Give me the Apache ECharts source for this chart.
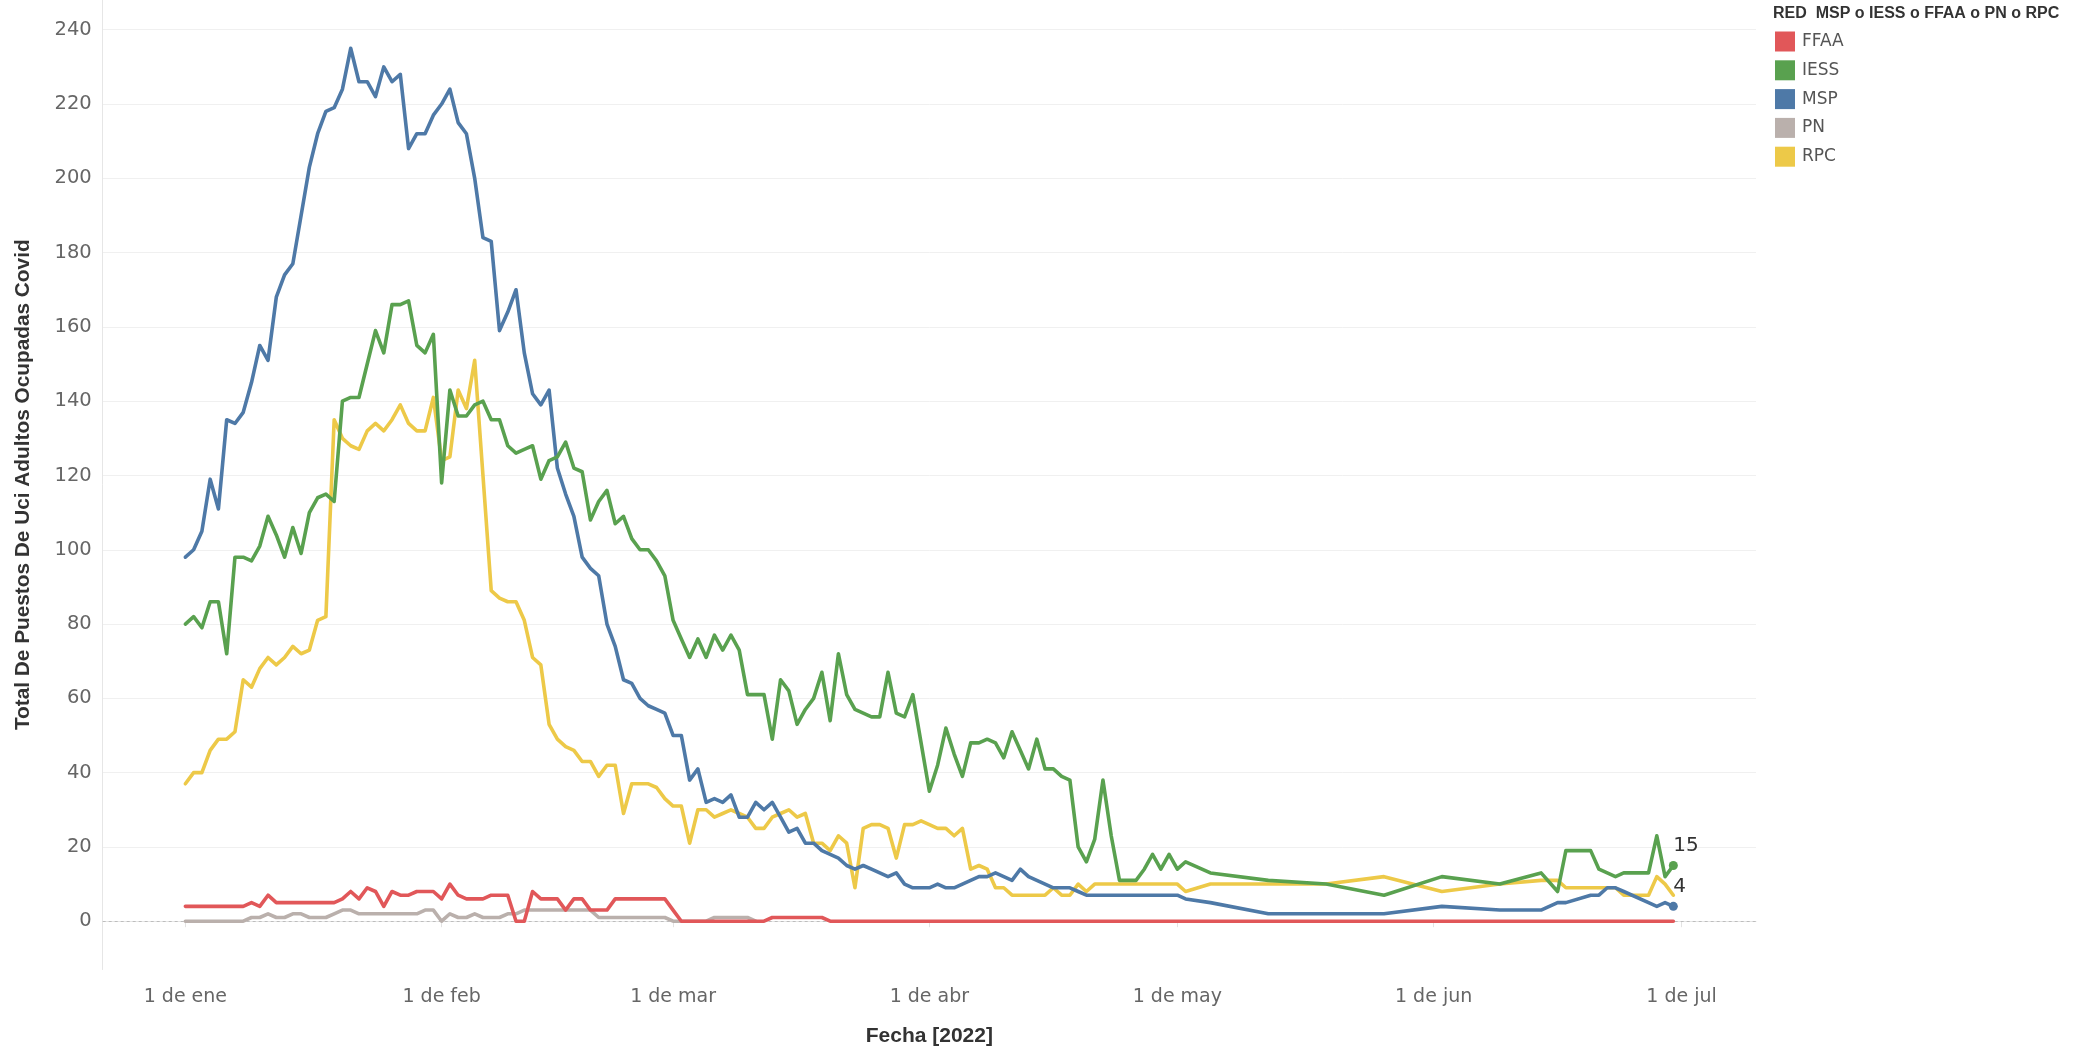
<!DOCTYPE html>
<html><head><meta charset="utf-8">
<script src="https://cdn.jsdelivr.net/npm/echarts@6/dist/echarts.min.js"></script>
<style>html,body{margin:0;padding:0;background:#fff}#c{width:2081px;height:1053px}</style>
</head><body><div id="c"></div><script>
// Dates (2022): daily Jan 1 - May 1, then the sparse reporting dates of May-June
const dates = [
'01-01','01-02','01-03','01-04','01-05','01-06','01-07','01-08','01-09','01-10',
'01-11','01-12','01-13','01-14','01-15','01-16','01-17','01-18','01-19','01-20',
'01-21','01-22','01-23','01-24','01-25','01-26','01-27','01-28','01-29','01-30','01-31',
'02-01','02-02','02-03','02-04','02-05','02-06','02-07','02-08','02-09','02-10',
'02-11','02-12','02-13','02-14','02-15','02-16','02-17','02-18','02-19','02-20',
'02-21','02-22','02-23','02-24','02-25','02-26','02-27','02-28',
'03-01','03-02','03-03','03-04','03-05','03-06','03-07','03-08','03-09','03-10',
'03-11','03-12','03-13','03-14','03-15','03-16','03-17','03-18','03-19','03-20',
'03-21','03-22','03-23','03-24','03-25','03-26','03-27','03-28','03-29','03-30','03-31',
'04-01','04-02','04-03','04-04','04-05','04-06','04-07','04-08','04-09','04-10',
'04-11','04-12','04-13','04-14','04-15','04-16','04-17','04-18','04-19','04-20',
'04-21','04-22','04-23','04-24','04-25','04-26','04-27','04-28','04-29','04-30',
'05-01',
'05-02','05-05','05-12','05-19','05-26','06-02','06-09','06-14','06-16','06-17',
'06-20','06-21','06-22','06-23','06-24','06-27','06-28','06-29','06-30'
];

const msp = [98,100,105,119,111,135,134,137,145,155,
151,168,174,177,190,203,212,218,219,224,
235,226,226,222,230,226,228,208,212,212,
217,220,224,215,212,200,184,183,159,164,
170,153,142,139,143,122,115,109,98,95,
93,80,74,65,64,60,58,57,56,50,
50,38,41,32,33,32,34,28,28,32,
30,32,28,24,25,21,21,19,18,17,
15,14,15,14,13,12,13,10,9,9,
9,10,9,9,10,11,12,12,13,12,
11,14,12,11,10,9,9,9,8,7,
7,7,7,7,7,7,7,7,7,7,7,
6,5,2,2,2,4,3,3,5,5,7,7,9,9,8,5,4,5,4];

const iess = [80,82,79,86,86,72,98,98,97,101,
109,104,98,106,99,110,114,115,113,140,
141,141,150,159,153,166,166,167,155,153,
158,118,143,136,136,139,140,135,135,128,
126,127,128,119,124,125,129,122,121,108,
113,116,107,109,103,100,100,97,93,81,
76,71,76,71,77,73,77,73,61,61,
61,49,65,62,53,57,60,67,54,72,
61,57,56,55,55,67,56,55,61,48,
35,42,52,45,39,48,48,49,48,44,
51,46,41,49,41,41,39,38,20,16,
22,38,23,11,11,11,14,18,14,18,14,
16,13,11,10,7,12,10,13,8,19,19,14,null,12,13,13,23,12,15];

const rpc = [37,40,40,46,49,49,51,65,63,68,
71,69,71,74,72,73,81,82,135,130,
128,127,132,134,132,135,139,134,132,132,
141,124,125,143,138,151,120,89,87,86,
86,81,71,69,53,49,47,46,43,43,
39,42,42,29,37,37,37,36,33,31,
31,21,30,30,28,29,30,29,28,25,
25,28,29,30,28,29,21,21,19,23,
21,9,25,26,26,25,17,26,26,27,
26,25,25,23,25,14,15,14,9,9,
7,7,7,7,7,9,7,7,10,8,
10,10,10,10,10,10,10,10,10,10,10,
8,10,10,10,12,8,10,11,11,9,9,9,9,9,7,7,12,10,7];

const ffaa = [4,4,4,4,4,4,4,4,5,4,
7,5,5,5,5,5,5,5,5,6,
8,6,9,8,4,8,7,7,8,8,
8,6,10,7,6,6,6,7,7,7,
0,0,8,6,6,6,3,6,6,3,
3,3,6,6,6,6,6,6,6,3,
0,0,0,0,0,0,0,0,0,0,
0,1,1,1,1,1,1,1,0,0,
0,0,0,0,0,0,0,0,0,0,
0,0,0,0,0,0,0,0,0,0,
0,0,0,0,0,0,0,0,0,0,
0,0,0,0,0,0,0,0,0,0,0,
0,0,0,0,0,0,0,0,0,0,0,0,0,0,0,0,0,0,0];

const pn = [0,0,0,0,0,0,0,0,1,1,
2,1,1,2,2,1,1,1,2,3,
3,2,2,2,2,2,2,2,2,3,
3,0,2,1,1,2,1,1,1,2,
2,3,3,3,3,3,3,3,3,3,
1,1,1,1,1,1,1,1,1,0,
0,0,0,0,1,1,1,1,1,0];

const monthLabels = ['ene','feb','mar','abr','may','jun','jul','ago','sep','oct','nov','dic'];
const yTicks = [0,20,40,60,80,100,120,140,160,180,200,220,240];

const colors = {FFAA:'#e15759', IESS:'#59a14f', MSP:'#4e79a7', PN:'#bab0ac', RPC:'#edc948'};

function build(arr, labelLast) {
  const out = [];
  for (let i = 0; i < arr.length; i++) {
    const v = arr[i] == null ? '-' : arr[i];
    const item = {value: ['2022-' + dates[i], v]};
    if (labelLast && i === arr.length - 1) {
      item.symbolSize = 9;
      item.label = {show: true, position: 'top', align: 'left', distance: 5,
        formatter: p => String(p.value[1]), color: '#333', fontSize: 20, fontFamily: 'DejaVu Sans'};
    }
    out.push(item);
  }
  return out;
}

function line(name, arr, labelLast, extra) {
  return Object.assign({
    name, type: 'line', data: build(arr, labelLast),
    symbol: 'circle', symbolSize: 0, showSymbol: true, connectNulls: true,
    clip: false,
    lineStyle: {width: 3.6, color: colors[name], join: 'round', cap: 'round'},
    itemStyle: {color: colors[name]},
    emphasis: {disabled: true}
  }, extra || {});
}

const chart = echarts.init(document.getElementById('c'), null, {renderer: 'canvas'});
chart.setOption({
  animation: false,
  backgroundColor: '#fff',
  title: {
    text: 'RED  MSP o IESS o FFAA o PN o RPC', left: 1773, top: 6, padding: 0,
    textStyle: {fontSize: 16, fontWeight: 'bold', color: '#333', fontFamily: 'Liberation Sans'}
  },
  legend: {
    data: ['FFAA','IESS','MSP','PN','RPC'], orient: 'vertical', left: 1775, top: 31.5,
    padding: 0, itemWidth: 20, itemHeight: 20, itemGap: 8.8, icon: 'rect',
    textStyle: {fontSize: 17, color: '#555', fontFamily: 'DejaVu Sans', padding: [0,0,0,2]},
    selectedMode: false
  },
  grid: {left: 102.7, right: 325, top: 0, bottom: 83.5, containLabel: false},
  xAxis: {
    type: 'time', min: '2021-12-22', max: '2022-07-10',
    splitNumber: 7, minInterval: 28 * 864e5, maxInterval: 31 * 864e5,
    axisLine: {show: true, lineStyle: {color: '#e6e6e6', width: 1}},
    axisTick: {show: true, length: 6, lineStyle: {color: '#e3e3e3'}},
    axisLabel: {
      formatter: v => { const d = new Date(v); return d.getDate() === 1 ? '1 de ' + monthLabels[d.getMonth()] : ''; },
      color: '#666', fontSize: 19, fontFamily: 'DejaVu Sans', margin: 18.5,
      showMinLabel: false, showMaxLabel: false
    },
    splitLine: {show: false},
    name: 'Fecha [2022]', nameLocation: 'middle', nameGap: 56,
    nameTextStyle: {fontSize: 21, fontWeight: 'bold', color: '#333', fontFamily: 'Liberation Sans'}
  },
  yAxis: {
    type: 'value', min: -13, max: 248, splitNumber: 13, minInterval: 20, maxInterval: 20,
    axisLine: {show: true, lineStyle: {color: '#e6e6e6', width: 1}},
    axisTick: {show: false},
    axisLabel: {
      formatter: v => yTicks.indexOf(v) >= 0 ? String(v) : '',
      color: '#666', fontSize: 19.5, fontFamily: 'DejaVu Sans', margin: 11,
      showMinLabel: false, showMaxLabel: false
    },
    splitLine: {show: true, showMinLine: false, showMaxLine: false, lineStyle: {color: '#f0f0f0', width: 1}},
    name: 'Total De Puestos De Uci Adultos Ocupadas Covid', nameLocation: 'middle', nameGap: 69,
    nameTextStyle: {fontSize: 20.8, fontWeight: 'bold', color: '#333', fontFamily: 'Liberation Sans'}
  },
  series: [
    line('RPC', rpc, false, {markLine: {silent: true, symbol: 'none', z: 1, label: {show: false},
      lineStyle: {type: [3, 3], color: '#bdbdbd', width: 1}, data: [{yAxis: 0}]}}),
    line('PN', pn, false),
    line('MSP', msp, true),
    line('IESS', iess, true),
    line('FFAA', ffaa, false)
  ]
});
</script></body></html>
